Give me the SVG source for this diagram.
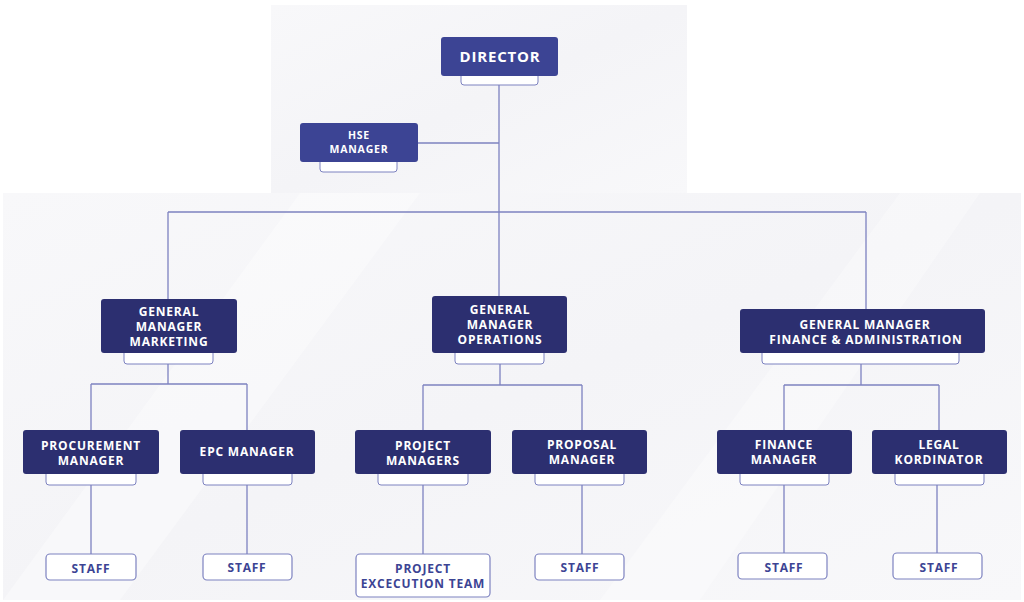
<svg xmlns="http://www.w3.org/2000/svg" width="1024" height="602" viewBox="0 0 1024 602">
<defs>
<linearGradient id="bg" x1="0" y1="0" x2="1" y2="1">
<stop offset="0" stop-color="#f8f8fa"/>
<stop offset="0.5" stop-color="#f4f4f7"/>
<stop offset="1" stop-color="#f8f8fa"/>
</linearGradient>
<style>
.lt{fill:#3c4494}
.dk{fill:#2c2f70}
.tab{fill:#ffffff;stroke:#7d82c0;stroke-width:1}
.sb{fill:#ffffff;stroke:#7d82c0;stroke-width:1.2}
.w{fill:#ffffff;font-family:"Open Sans","DejaVu Sans",sans-serif;font-weight:700;font-size:12px;letter-spacing:0.8px;text-anchor:middle}
.b{fill:#3c4494;font-family:"Open Sans","DejaVu Sans",sans-serif;font-weight:700;font-size:12px;letter-spacing:0.8px;text-anchor:middle}
.c{fill:none;stroke:#7d82c0;stroke-width:1.3}
</style>
</defs>
<rect width="1024" height="602" fill="#ffffff"/>
<g id="background">
<rect x="271" y="5" width="416" height="190" fill="url(#bg)"/>
<rect x="3" y="193" width="1018" height="407" fill="url(#bg)"/>
<polygon points="3,600 300,193 420,193 120,600" fill="#ffffff" opacity="0.35"/>
<polygon points="600,600 900,193 980,193 700,600" fill="#ffffff" opacity="0.3"/>
</g>
<g id="connectors">
<path class="c" d="M499,85 V212 M418,143 H499 M168,212 H866 M168,212 V299 M499,212 V296 M866,212 V309"/>
<path class="c" d="M168,364 V384 M91,384 H247 M91,384 V430 M247,384 V430"/>
<path class="c" d="M500,364 V385 M423,385 H582 M423,385 V430 M582,385 V430"/>
<path class="c" d="M861,364 V385 M784,385 H939 M784,385 V430 M939,385 V430"/>
<path class="c" d="M91,485 V554 M247,485 V554 M423,485 V554 M582,485 V554 M784,485 V553 M937,485 V553"/>
</g>
<g id="director">
<rect class="tab" x="461" y="70" width="77" height="15" rx="3"/>
<rect class="lt" x="441" y="37" width="117" height="39" rx="3"/>
<text class="w" x="500" y="62" style="font-size:15px">DIRECTOR</text>
</g>
<g id="hse">
<rect class="tab" x="320" y="156" width="77" height="16" rx="3"/>
<rect class="lt" x="300" y="123" width="118" height="39" rx="3"/>
<text class="w" x="359" y="139" style="font-size:10.5px">HSE</text>
<text class="w" x="359" y="153" style="font-size:10.5px">MANAGER</text>
</g>
<g id="gm-marketing">
<rect class="tab" x="124" y="347" width="89" height="17" rx="3"/>
<rect class="dk" x="101" y="299" width="136" height="54" rx="3"/>
<text class="w" x="169" y="316">GENERAL</text>
<text class="w" x="169" y="331">MANAGER</text>
<text class="w" x="169" y="346">MARKETING</text>
</g>
<g id="gm-operations">
<rect class="tab" x="455" y="347" width="89" height="17" rx="3"/>
<rect class="dk" x="432" y="296" width="135" height="57" rx="3"/>
<text class="w" x="500" y="314">GENERAL</text>
<text class="w" x="500" y="329">MANAGER</text>
<text class="w" x="500" y="344">OPERATIONS</text>
</g>
<g id="gm-finance">
<rect class="tab" x="762" y="347" width="197" height="17" rx="3"/>
<rect class="dk" x="740" y="309" width="245" height="44" rx="3"/>
<text class="w" x="865" y="329">GENERAL MANAGER</text>
<text class="w" x="866" y="344">FINANCE &amp; ADMINISTRATION</text>
</g>
<g id="procurement">
<rect class="tab" x="46" y="468" width="90" height="17" rx="3"/>
<rect class="dk" x="23" y="430" width="136" height="44" rx="3"/>
<text class="w" x="91" y="450">PROCUREMENT</text>
<text class="w" x="91" y="465">MANAGER</text>
</g>
<g id="epc">
<rect class="tab" x="203" y="468" width="89" height="17" rx="3"/>
<rect class="dk" x="180" y="430" width="135" height="44" rx="3"/>
<text class="w" x="247" y="456">EPC MANAGER</text>
</g>
<g id="project-managers">
<rect class="tab" x="378" y="468" width="90" height="17" rx="3"/>
<rect class="dk" x="355" y="430" width="136" height="44" rx="3"/>
<text class="w" x="423" y="450">PROJECT</text>
<text class="w" x="423" y="465">MANAGERS</text>
</g>
<g id="proposal">
<rect class="tab" x="535" y="468" width="89" height="17" rx="3"/>
<rect class="dk" x="512" y="430" width="135" height="44" rx="3"/>
<text class="w" x="582" y="449">PROPOSAL</text>
<text class="w" x="582" y="464">MANAGER</text>
</g>
<g id="finance-manager">
<rect class="tab" x="740" y="468" width="89" height="17" rx="3"/>
<rect class="dk" x="717" y="430" width="135" height="44" rx="3"/>
<text class="w" x="784" y="449">FINANCE</text>
<text class="w" x="784" y="464">MANAGER</text>
</g>
<g id="legal">
<rect class="tab" x="895" y="468" width="89" height="17" rx="3"/>
<rect class="dk" x="872" y="430" width="135" height="44" rx="3"/>
<text class="w" x="939" y="449">LEGAL</text>
<text class="w" x="939" y="464">KORDINATOR</text>
</g>
<g id="staff-procurement">
<rect class="sb" x="46" y="554" width="90" height="26" rx="4"/>
<text class="b" x="91" y="573">STAFF</text>
</g>
<g id="staff-epc">
<rect class="sb" x="203" y="554" width="89" height="26" rx="4"/>
<text class="b" x="247" y="572">STAFF</text>
</g>
<g id="project-execution-team">
<rect class="sb" x="356" y="554" width="134" height="43" rx="4"/>
<text class="b" x="423" y="573">PROJECT</text>
<text class="b" x="423" y="588">EXCECUTION TEAM</text>
</g>
<g id="staff-proposal">
<rect class="sb" x="535" y="554" width="89" height="26" rx="4"/>
<text class="b" x="580" y="572">STAFF</text>
</g>
<g id="staff-finance">
<rect class="sb" x="738" y="553" width="89" height="26" rx="4"/>
<text class="b" x="784" y="572">STAFF</text>
</g>
<g id="staff-legal">
<rect class="sb" x="893" y="553" width="89" height="26" rx="4"/>
<text class="b" x="939" y="572">STAFF</text>
</g>
</svg>
